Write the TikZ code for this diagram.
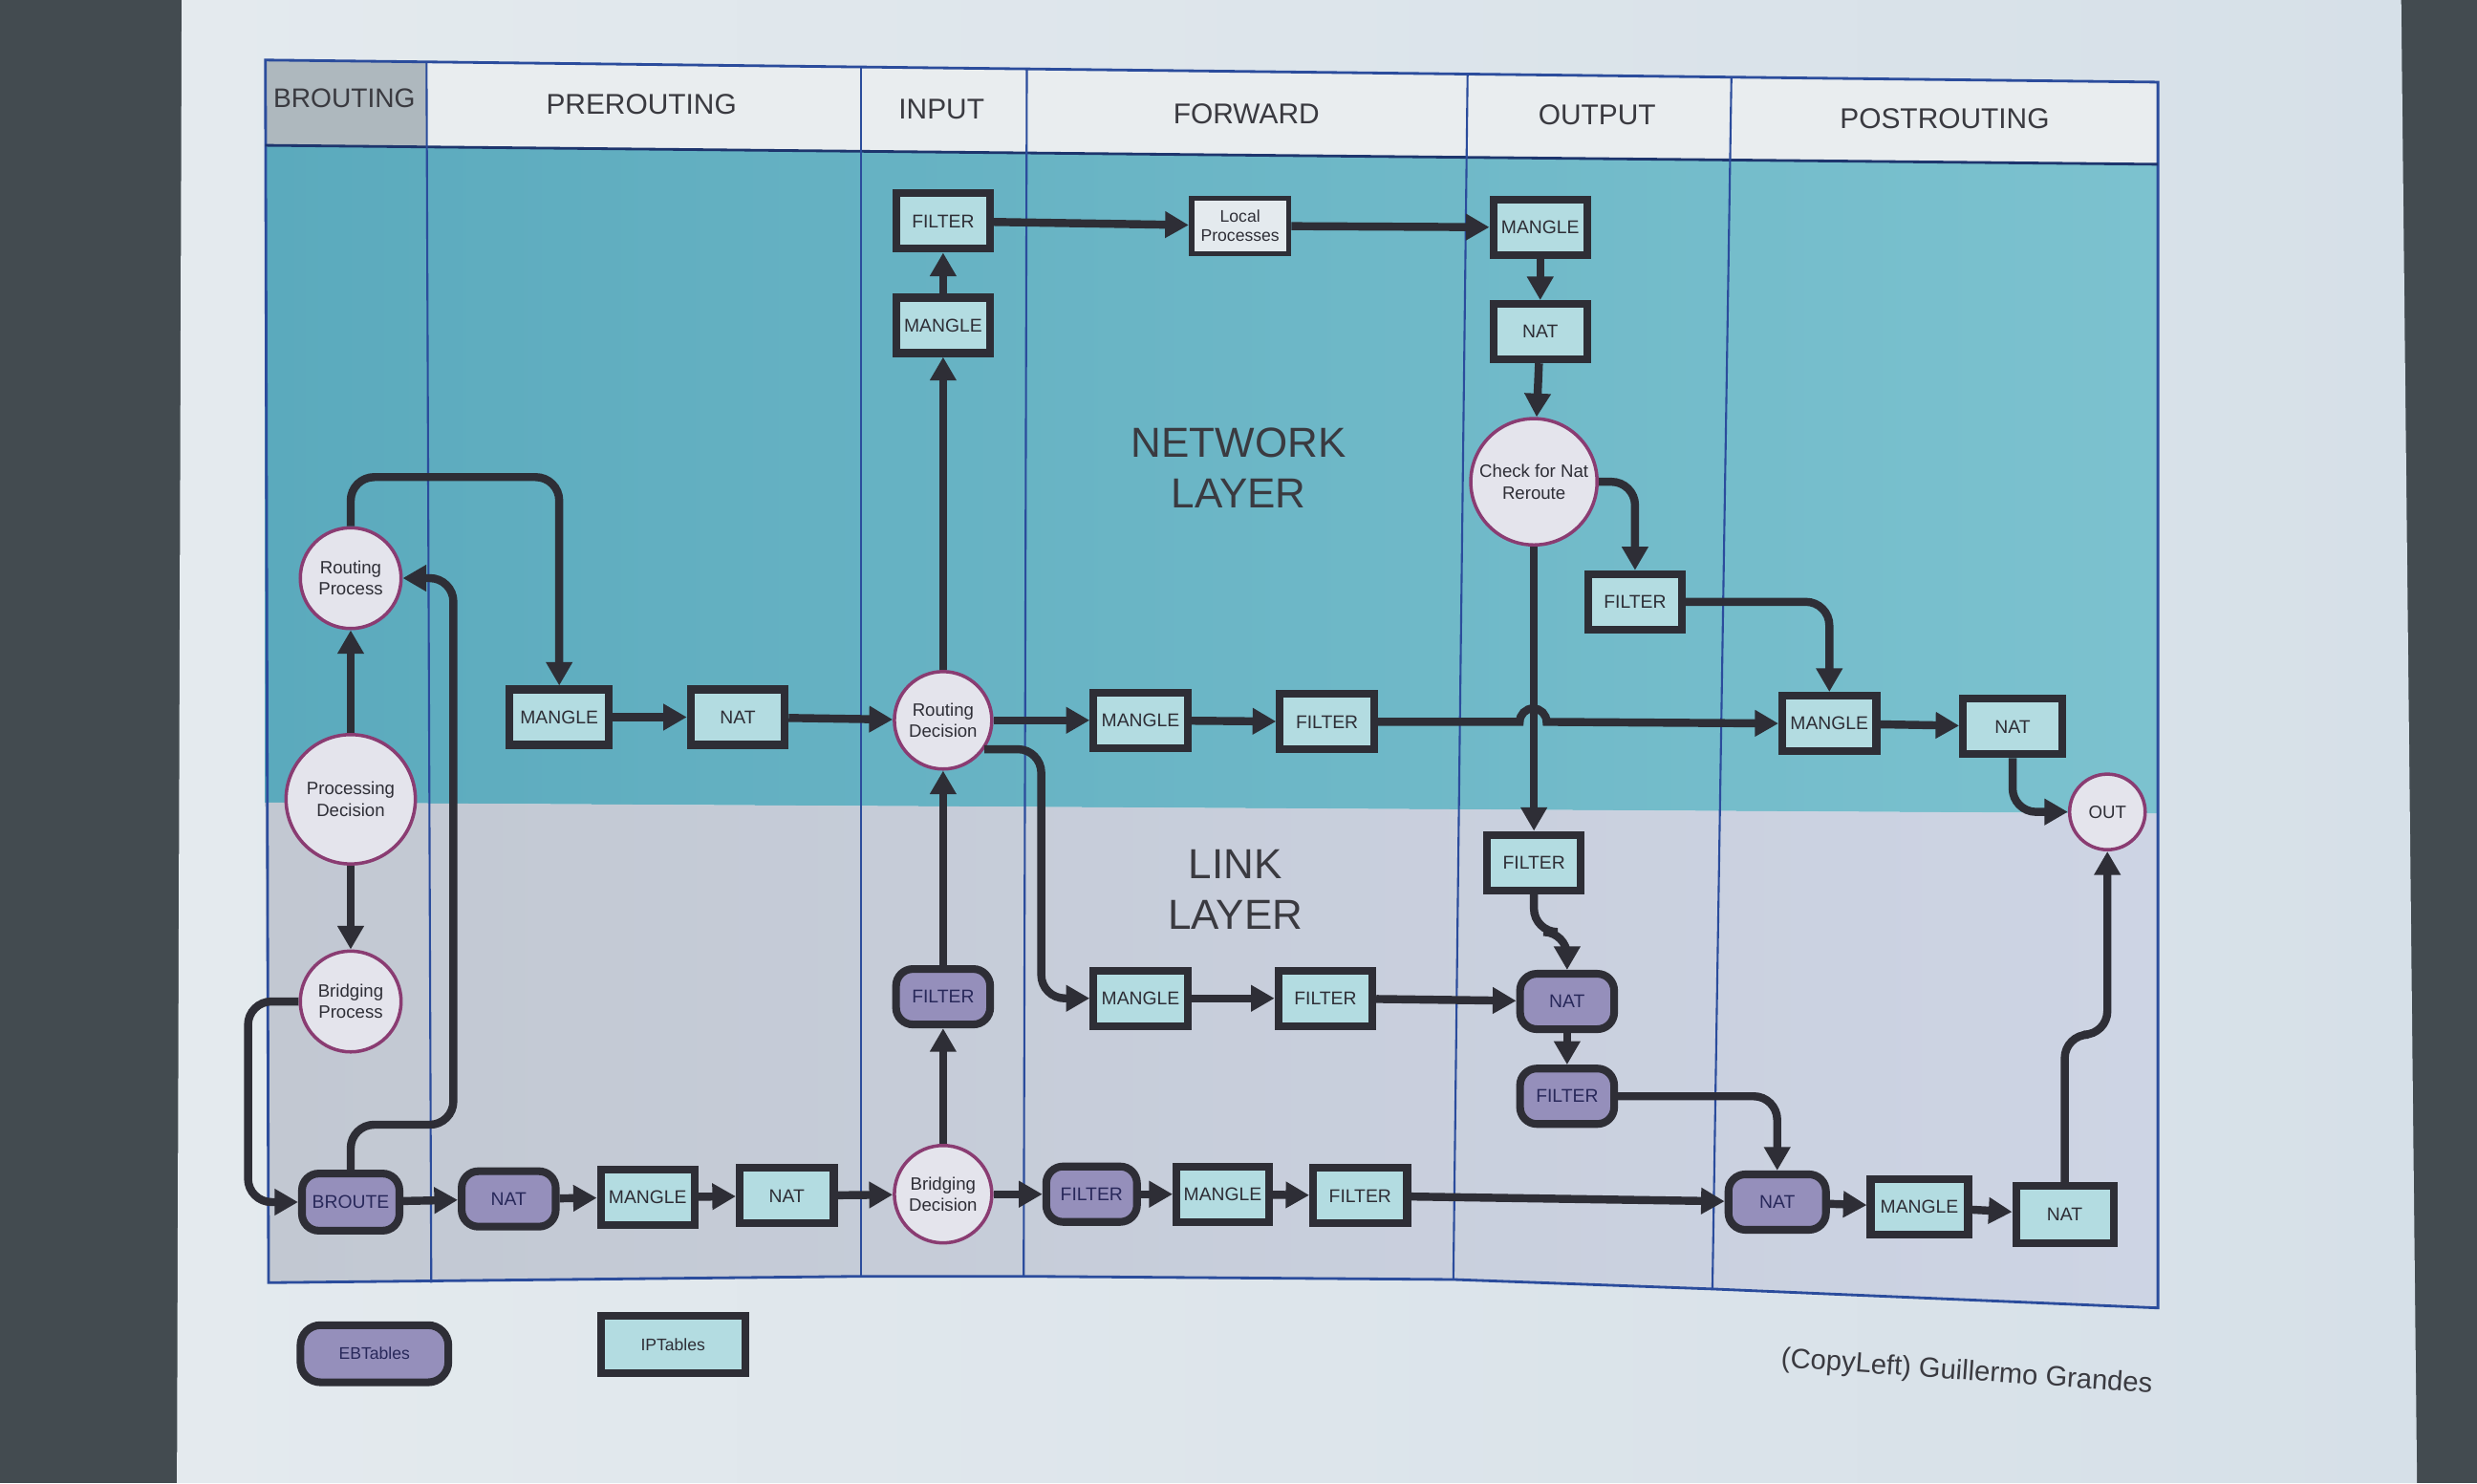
\documentclass[tikz,border=0pt]{standalone}
\usepackage{fontspec}
\setmainfont{Liberation Sans}
\usetikzlibrary{arrows.meta,calc}
\definecolor{bgdark}{HTML}{434B50}
\definecolor{paperA}{HTML}{E4EAEE}
\definecolor{paperB}{HTML}{D6E0E8}
\definecolor{netL}{HTML}{5BAABD}
\definecolor{netR}{HTML}{7CC2CF}
\definecolor{linkL}{HTML}{C2C8D2}
\definecolor{linkR}{HTML}{CDD4E4}
\definecolor{hdrcol}{HTML}{E9EDEF}
\definecolor{brhdr}{HTML}{AEB8BE}
\definecolor{ipfill}{HTML}{B3DCE1}
\definecolor{ebfill}{HTML}{958FBB}
\definecolor{circfill}{HTML}{E4E4EC}
\definecolor{circline}{HTML}{8A3C72}
\definecolor{colline}{HTML}{2B4C9C}
\definecolor{ink}{HTML}{2E2E36}
\definecolor{navyink}{HTML}{28285A}
\definecolor{hdrtext}{HTML}{3A3A40}
\begin{document}
\begin{tikzpicture}[x=0.01653cm,y=-0.01653cm,
  ipt/.style={draw=ink, line width=2.3pt, fill=ipfill, minimum width=28pt,
    minimum height=16.5pt, inner sep=0pt, font=\fontsize{5.5}{6.5}\selectfont, text=ink},
  ebt/.style={ipt, fill=ebfill, rounded corners=5pt, text=navyink},
  localbox/.style={draw=ink, line width=1.6pt, fill=paperA, minimum width=29pt,
    minimum height=16.5pt, inner sep=0pt, align=center,
    font=\fontsize{5}{5.8}\selectfont, text=ink},
  proc/.style={circle, draw=circline, line width=1pt, fill=circfill, inner sep=0pt,
    align=center, font=\fontsize{5.3}{6.4}\selectfont, text=ink},
  hdr/.style={font=\fontsize{8.5}{10}\selectfont, text=hdrtext},
  layer/.style={align=center, font=\fontsize{12.5}{15}\selectfont, text=hdrtext},
  conn/.style={draw=ink, line width=2.4pt, -{Triangle[length=7pt,width=7.5pt]},
    rounded corners=7pt}
]
\useasboundingbox (0,0) rectangle (1568,939);
% photo background and paper
\fill[bgdark] (0,0) rectangle (1568,939);
\shade[left color=paperA, right color=paperB] (115,0) -- (1520,0) -- (1530,939) -- (112,939) -- cycle;
% table areas
\fill[hdrcol] (168,38) -- (1366,52) -- (1366,104) -- (168,92) -- cycle;
\fill[brhdr] (168,38) -- (270,39) -- (270,93) -- (168,92) -- cycle;
\shade[left color=netL, right color=netR] (168,92) -- (1366,104) -- (1366,515) -- (168,508) -- cycle;
\shade[left color=linkL, right color=linkR] (168,508) -- (1366,515) -- (1366,828) -- (1084,816) -- (920,810) -- (650,808) -- (545,808) -- (170,812) -- cycle;
% frame and column lines
\draw[colline, line width=0.8pt] (168,38) -- (1366,52) -- (1366,828) -- (1084,816) -- (920,810) -- (650,808) -- (545,808) -- (170,812) -- cycle;
\draw[colline!70!black, line width=0.8pt] (168,92) -- (1366,104);
\draw[colline, line width=0.6pt] (270,39) -- (273,812);
\draw[colline, line width=0.6pt] (545,42) -- (545,808);
\draw[colline, line width=0.6pt] (650,44) -- (648,808);
\draw[colline, line width=0.6pt] (929,47) -- (920,810);
\draw[colline, line width=0.6pt] (1096,49) -- (1084,816);
% headers
\node[hdr, font=\fontsize{8}{10}\selectfont] (hBr) at (218,62) {BROUTING};
\node[hdr] (hPre) at (406,66) {PREROUTING};
\node[hdr] (hIn) at (596,69) {INPUT};
\node[hdr] (hFw) at (789,72) {FORWARD};
\node[hdr] (hOut) at (1011,73) {OUTPUT};
\node[hdr] (hPost) at (1231,75) {POSTROUTING};
% layer labels
\node[layer] (netlabel) at (784,296) {NETWORK\\LAYER};
\node[layer] (linklabel) at (782,563) {LINK\\LAYER};
% network layer nodes
\node[ipt] (FILTERin) at (597,140) {FILTER};
\node[ipt] (MANGLEin) at (597,206) {MANGLE};
\node[localbox] (LocalProc) at (785,143) {Local\\Processes};
\node[ipt] (MANGLEout) at (975,144) {MANGLE};
\node[ipt] (NATout) at (975,210) {NAT};
\node[proc, minimum size=37.6pt] (CheckNat) at (971,305) {Check for Nat\\Reroute};
\node[ipt] (FILTERo2) at (1035,381) {FILTER};
\node[ipt] (MANGLEpost) at (1158,458) {MANGLE};
\node[ipt, minimum width=29.5pt] (NATpost) at (1274,460) {NAT};
\node[proc, minimum size=22.5pt] (OUT) at (1334,514) {OUT};
\node[proc, minimum size=30pt] (RoutingProc) at (222,366) {Routing\\Process};
\node[proc, minimum size=38.5pt] (ProcDec) at (222,506) {Processing\\Decision};
\node[proc, minimum size=30pt] (BridgProc) at (222,634) {Bridging\\Process};
\node[ipt, minimum width=29.5pt] (MANGLEpre) at (354,454) {MANGLE};
\node[ipt] (NATpre) at (467,454) {NAT};
\node[proc, minimum size=29pt] (RoutDec) at (597,456) {Routing\\Decision};
\node[ipt] (MANGLEfwd) at (722,456) {MANGLE};
\node[ipt] (FILTERfwd) at (840,457) {FILTER};
% link layer nodes
\node[ipt] (FILTERol) at (971,546) {FILTER};
\node[ebt] (FILTERebin) at (597,631) {FILTER};
\node[ipt] (MANGLEl) at (722,632) {MANGLE};
\node[ipt] (FILTERl) at (839,632) {FILTER};
\node[ebt] (NAToeb) at (992,634) {NAT};
\node[ebt] (FILTERoeb) at (992,694) {FILTER};
\node[ebt, minimum width=29pt, minimum height=17pt] (BROUTE) at (222,761) {BROUTE};
\node[ebt] (NATpeb) at (322,759) {NAT};
\node[ipt] (MANGLEpb) at (410,758) {MANGLE};
\node[ipt] (NATpb) at (498,757) {NAT};
\node[proc, minimum size=29pt] (BridDec) at (597,756) {Bridging\\Decision};
\node[ebt, minimum width=27pt] (FILTERfeb) at (691,756) {FILTER};
\node[ipt, minimum width=27.5pt] (MANGLEfb) at (774,756) {MANGLE};
\node[ipt] (FILTERfb) at (861,757) {FILTER};
\node[ebt, minimum width=29pt] (NATpoeb) at (1125,761) {NAT};
\node[ipt, minimum width=29pt] (MANGLEpob) at (1215,764) {MANGLE};
\node[ipt, minimum width=29pt, minimum height=17pt] (NATpob) at (1307,769) {NAT};
% legend
\node[ebt, minimum width=44pt, minimum height=17pt, rounded corners=6pt,
  font=\fontsize{5}{6}\selectfont] (legEB) at (237,857) {EBTables};
\node[ipt, minimum width=43pt, minimum height=17pt,
  font=\fontsize{5}{6}\selectfont] (legIP) at (426,851) {IPTables};
\node[font=\fontsize{8.3}{10}\selectfont, text=hdrtext, rotate=-4] (copyleft) at (1245,869) {(CopyLeft) Guillermo Grandes};
% connectors: brouting column
\draw[conn] (ProcDec) -- (RoutingProc);
\draw[conn] (ProcDec) -- (BridgProc);
\draw[conn] (RoutingProc.north) -- ++(0,-31) -| (MANGLEpre.north);
\draw[conn] (BROUTE.north) |- (287,712) |- (RoutingProc.east);
\draw[conn] (BridgProc.west) -- (157,634) |- (BROUTE.west);
% bottom chain
\draw[conn] (BROUTE) -- (NATpeb);
\draw[conn] (NATpeb) -- (MANGLEpb);
\draw[conn] (MANGLEpb) -- (NATpb);
\draw[conn] (NATpb) -- (BridDec);
\draw[conn] (BridDec) -- (FILTERfeb);
\draw[conn] (FILTERfeb) -- (MANGLEfb);
\draw[conn] (MANGLEfb) -- (FILTERfb);
\draw[conn] (FILTERfb) -- (NATpoeb);
\draw[conn] (NATpoeb) -- (MANGLEpob);
\draw[conn] (MANGLEpob) -- (NATpob);
\draw[conn] (NATpob.north) |- (1334,655) -- (OUT.south);
% input column
\draw[conn] (BridDec) -- (FILTERebin);
\draw[conn] (FILTERebin) -- (RoutDec);
\draw[conn] (MANGLEpre) -- (NATpre);
\draw[conn] (NATpre) -- (RoutDec);
\draw[conn] (RoutDec) -- (MANGLEin);
\draw[conn] (MANGLEin) -- (FILTERin);
\draw[conn] (FILTERin) -- (LocalProc);
\draw[conn] (LocalProc) -- (MANGLEout);
\draw[conn] (MANGLEout) -- (NATout);
\draw[conn] (NATout) -- (CheckNat);
% forward
\draw[conn] (RoutDec) -- (MANGLEfwd);
\draw[conn] (MANGLEfwd) -- (FILTERfwd);
\draw[conn, sharp corners] (FILTERfwd.east) -- (962,457) arc[start angle=180, end angle=0, radius=4pt] -- (MANGLEpost.west);
\draw[conn] (MANGLEpost) -- (NATpost);
\draw[conn] (NATpost.south) |- (OUT.west);
\draw[conn] (RoutDec.-35) -- ++(36,0) |- (MANGLEl.west);
\draw[conn] (MANGLEl) -- (FILTERl);
\draw[conn] (FILTERl) -- (NAToeb);
% output
\draw[conn] (CheckNat.east) -| (FILTERo2.north);
\draw[conn] (FILTERo2.east) -| (MANGLEpost.north);
\draw[conn] (CheckNat.south) -- (FILTERol.north);
\draw[conn] (FILTERol.south) |- (992,590) -- (NAToeb.north);
\draw[conn] (NAToeb) -- (FILTERoeb);
\draw[conn] (FILTERoeb.east) -| (NATpoeb.north);
\end{tikzpicture}
\end{document}
